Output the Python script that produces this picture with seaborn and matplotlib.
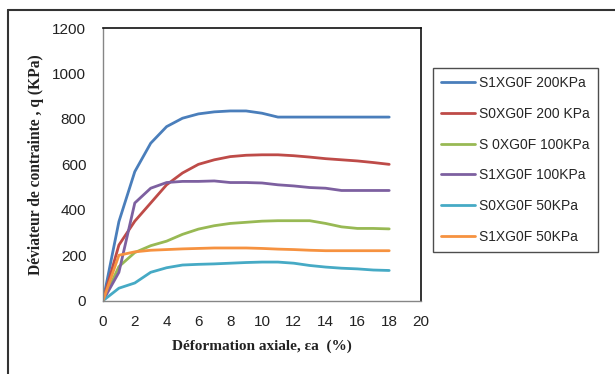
import matplotlib
matplotlib.use("Agg")
import matplotlib.pyplot as plt
import seaborn as sns
import pandas as pd
from matplotlib.lines import Line2D

# Axial strain (%) at each reading
strain = [0, 1, 2, 3, 4, 5, 6, 7, 8, 9, 10, 11, 12, 13, 14, 15, 16, 17, 18]

# Deviator stress q (kPa) for each test
s1_200 = [0, 348, 568, 693, 766, 803, 822, 831, 835, 835, 825, 808, 808, 808, 808, 808, 808, 808, 808]
s0_200 = [0, 245, 350, 430, 510, 562, 600, 620, 634, 640, 642, 642, 638, 632, 625, 620, 615, 608, 600]
s0_100 = [0, 150, 212, 242, 262, 292, 315, 330, 340, 345, 350, 352, 352, 352, 340, 325, 318, 318, 316]
s1_100 = [0, 125, 430, 495, 520, 525, 525, 527, 520, 520, 518, 510, 505, 498, 495, 485, 485, 485, 485]
s0_50 = [0, 55, 78, 125, 145, 157, 160, 162, 165, 168, 170, 170, 165, 155, 148, 143, 140, 135, 133]
s1_50 = [0, 200, 215, 222, 225, 228, 230, 232, 232, 232, 230, 227, 225, 222, 220, 220, 220, 220, 220]

labels = ["S1XG0F 200KPa", "S0XG0F 200 KPa", "S 0XG0F 100KPa",
          "S1XG0F 100KPa", "S0XG0F 50KPa", "S1XG0F 50KPa"]
series = [s1_200, s0_200, s0_100, s1_100, s0_50, s1_50]
colors = ["#4A7EBB", "#BE4B48", "#98B954", "#7D60A0", "#46AAC5", "#F69240"]

frames = []
for lab, vals in zip(labels, series):
    frames.append(pd.DataFrame({"strain": strain, "q": vals, "test": lab}))
df = pd.concat(frames, ignore_index=True)

sns.set_style("white")
plt.rcParams["font.family"] = ["Liberation Sans", "DejaVu Sans"]

fig = plt.figure(figsize=(6.15, 3.74), dpi=100)
ax = fig.add_axes([103 / 615, 1 - 300.7 / 374, 318 / 615, 272.7 / 374])

sns.lineplot(data=df, x="strain", y="q", hue="test", hue_order=labels,
             palette=colors, linewidth=2.0, ax=ax, legend=False)

ax.set_xlim(0, 20)
ax.set_ylim(0, 1200)
ax.set_xticks(range(0, 21, 2))
ax.set_yticks(range(0, 1201, 200))
ax.tick_params(axis="both", direction="out", length=4, width=1, color="#868686",
               labelsize=11, labelcolor="#222222")
ax.tick_params(axis="x", pad=6)
ax.tick_params(axis="y", pad=8)

for side in ("left", "bottom"):
    ax.spines[side].set_color("#868686")
    ax.spines[side].set_linewidth(1.0)
for side in ("top", "right"):
    ax.spines[side].set_color("#111111")
    ax.spines[side].set_linewidth(1.2)

serif = ["Liberation Serif", "DejaVu Serif"]
ax.set_xlabel("Déformation axiale, εa  (%)", family=serif, fontweight="bold",
              fontsize=11, labelpad=8, color="#222222")
ax.set_ylabel("Déviateur de contrainte , q (KPa)", family=serif, fontweight="bold",
              fontsize=11.2, labelpad=6, color="#222222")

handles = [Line2D([0], [0], color=c, lw=2.0) for c in colors]
leg = fig.legend(handles, labels, loc="upper left",
                 bbox_to_anchor=(433 / 615, 1 - 68 / 374), borderaxespad=0,
                 frameon=True, fancybox=False, fontsize=10, handlelength=2.4,
                 handletextpad=0.3, labelspacing=1.2, borderpad=0.6)
leg.get_frame().set_edgecolor("#222222")
leg.get_frame().set_linewidth(1.0)

# Outer chart border (left and top edges)
fig.add_artist(Line2D([8 / 615, 8 / 615], [0, 1 - 10 / 374], transform=fig.transFigure,
                      color="#333333", lw=1.5))
fig.add_artist(Line2D([8 / 615, 1], [1 - 10 / 374, 1 - 10 / 374], transform=fig.transFigure,
                      color="#333333", lw=1.5))

fig.savefig("out.png", dpi=100)
